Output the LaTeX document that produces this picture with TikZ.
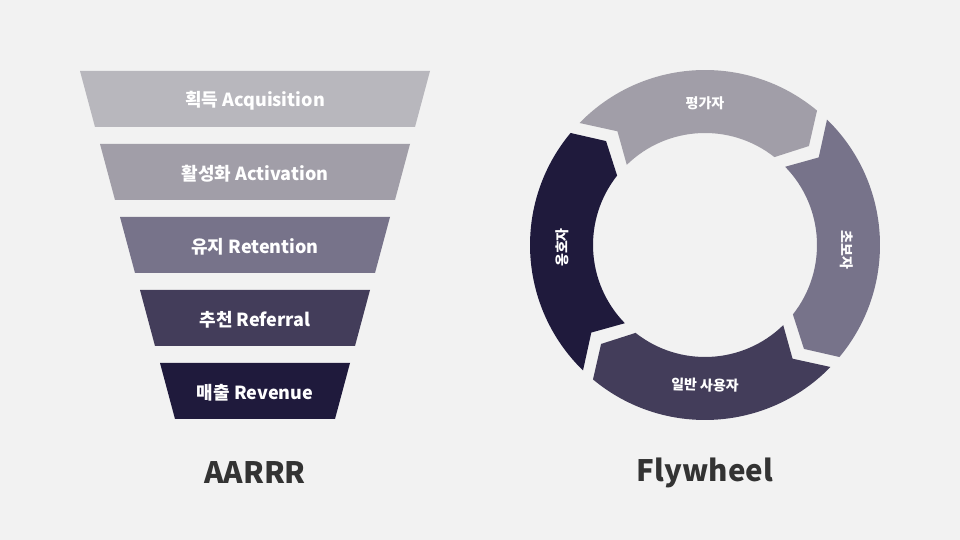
\documentclass[tikz,border=0pt]{standalone}
\usepackage{fontspec}
\setmainfont{Noto Sans CJK KR}
\definecolor{bgcol}{HTML}{F2F2F2}
\definecolor{shadeA}{HTML}{B8B7BD}
\definecolor{shadeB}{HTML}{A19EA8}
\definecolor{shadeC}{HTML}{77738A}
\definecolor{shadeD}{HTML}{433D5A}
\definecolor{shadeE}{HTML}{1F1A3C}
\definecolor{titlecol}{HTML}{333333}
\tikzset{
  funnellabel/.style={text=white, font=\fontsize{18}{20}\selectfont\bfseries, inner sep=0pt},
  wheellabel/.style={text=white, font=\fontsize{14}{16}\selectfont\bfseries, inner sep=0pt},
  heading/.style={text=titlecol, font=\fontsize{29.5}{34}\selectfont\bfseries, inner sep=0pt},
}
\begin{document}
\begin{tikzpicture}[x=1pt, y=1pt]
  \fill[bgcol] (0,0) rectangle (960,540);
  \useasboundingbox (0,0) rectangle (960,540);

  % AARRR funnel: five trapezoids, each 56 high, 73 apart
  \foreach \k/\col/\txt in {0/shadeA/획득 Acquisition, 1/shadeB/활성화 Activation,
                            2/shadeC/유지 Retention, 3/shadeD/추천 Referral,
                            4/shadeE/매출 Revenue}{
    \pgfmathsetmacro{\ytop}{469-73*\k}
    \pgfmathsetmacro{\ybot}{\ytop-56}
    \pgfmathsetmacro{\xl}{80+20*\k}
    \pgfmathsetmacro{\xr}{430-20*\k}
    \fill[\col] (\xl,\ytop) -- (\xr,\ytop) -- (\xr-15,\ybot) -- (\xl+15,\ybot) -- cycle;
    \node[funnellabel] (row\k) at (255,\ytop-30) {\txt};
  }
  \node[heading] (aarrr) at (255,67) {AARRR};

  % Flywheel: four chevron-ended ring segments running clockwise
  \def\Ro{175}
  \def\Ri{112}
  \def\Rm{143.5}
  \begin{scope}[shift={(705,295)}]
    \foreach \bs/\col in {138/shadeB, 48/shadeC, -42/shadeD, -132/shadeE}{
      \pgfmathsetmacro{\be}{\bs-90}
      \pgfmathsetmacro{\aOs}{\bs-2.2}
      \pgfmathsetmacro{\aOe}{\be+2.2}
      \pgfmathsetmacro{\aMe}{\be-7.4+3}
      \pgfmathsetmacro{\aIe}{\be+3.7}
      \pgfmathsetmacro{\aIs}{\bs-3.7}
      \pgfmathsetmacro{\aMs}{\bs-7.4-3}
      \fill[\col] (\aOs:\Ro) arc[start angle=\aOs, end angle=\aOe, radius=\Ro]
        -- (\aMe:\Rm) -- (\aIe:\Ri)
        arc[start angle=\aIe, end angle=\aIs, radius=\Ri]
        -- (\aMs:\Rm) -- cycle;
    }
    \node[wheellabel] (evaluator) at (90:142) {평가자};
    \node[wheellabel, rotate=-90] (beginner) at (-2:142) {초보자};
    \node[wheellabel, rotate=-2] (regular) at (-90:140) {일반 사용자};
    \node[wheellabel, rotate=90] (advocate) at (181:143) {옹호자};
  \end{scope}
  \node[heading] (flywheel) at (705,67) {Flywheel};
\end{tikzpicture}
\end{document}
